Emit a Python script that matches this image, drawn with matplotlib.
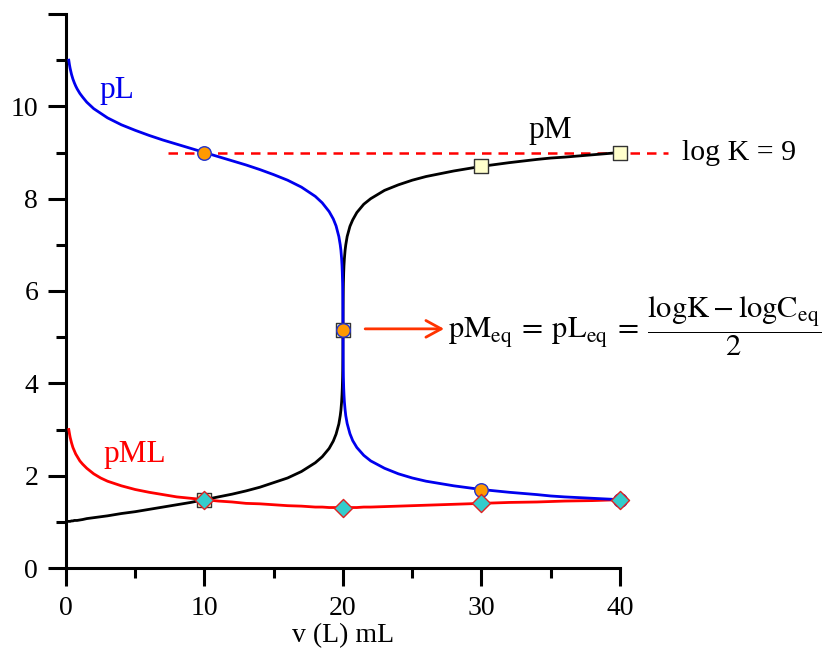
import matplotlib
matplotlib.use("Agg")
import matplotlib.pyplot as plt

plt.rcParams['font.family'] = ['Liberation Serif', 'DejaVu Serif']
plt.rcParams['mathtext.fontset'] = 'stix'

# titrant volume (mL) and p-values
v = [0.2, 0.25, 0.3, 0.4, 0.5, 0.6, 0.7, 0.8, 1, 1.2, 1.5, 2, 2.5, 3, 4, 5, 6, 7, 8, 9,
     10, 11, 12, 13, 14, 15, 16, 17, 18, 18.5, 19, 19.3, 19.5, 19.7, 19.8, 19.85, 19.9,
     19.93, 19.95, 19.97, 19.98, 19.99, 19.995, 20, 20.005, 20.01, 20.02, 20.03, 20.05,
     20.07, 20.1, 20.15, 20.2, 20.3, 20.5, 20.7, 21, 21.5, 22, 23, 24, 25, 26, 27, 28,
     29, 30, 32, 34, 35, 36, 38, 40]
pM = [1.01, 1.01, 1.01, 1.02, 1.02, 1.03, 1.03, 1.03, 1.04, 1.05, 1.07, 1.09, 1.11,
      1.13, 1.18, 1.22, 1.27, 1.32, 1.37, 1.42, 1.48, 1.54, 1.60, 1.67, 1.75, 1.85,
      1.95, 2.09, 2.28, 2.41, 2.59, 2.75, 2.90, 3.12, 3.30, 3.42, 3.60, 3.76, 3.90,
      4.12, 4.29, 4.57, 4.80, 5.15, 5.50, 5.73, 6.01, 6.18, 6.40, 6.55, 6.70, 6.88,
      7.00, 7.18, 7.40, 7.54, 7.70, 7.88, 8.00, 8.18, 8.30, 8.40, 8.48, 8.54, 8.60,
      8.65, 8.70, 8.78, 8.85, 8.88, 8.90, 8.95, 9.00]
pL = [11.00, 10.90, 10.82, 10.69, 10.59, 10.51, 10.44, 10.38, 10.28, 10.20, 10.09,
      9.95, 9.85, 9.75, 9.60, 9.48, 9.37, 9.27, 9.18, 9.09, 9.00, 8.91, 8.82, 8.73,
      8.63, 8.52, 8.40, 8.25, 8.05, 7.91, 7.72, 7.56, 7.41, 7.18, 7.00, 6.88, 6.70,
      6.55, 6.40, 6.18, 6.01, 5.73, 5.50, 5.15, 4.80, 4.57, 4.29, 4.12, 3.90, 3.76,
      3.60, 3.43, 3.30, 3.13, 2.91, 2.76, 2.61, 2.44, 2.32, 2.16, 2.04, 1.95, 1.88,
      1.83, 1.78, 1.74, 1.70, 1.64, 1.59, 1.56, 1.54, 1.51, 1.48]
pML = [3.00, 2.91, 2.83, 2.71, 2.61, 2.54, 2.47, 2.42, 2.32, 2.25, 2.16, 2.04, 1.95,
       1.88, 1.78, 1.70, 1.64, 1.59, 1.54, 1.51, 1.48, 1.45, 1.43, 1.40, 1.39, 1.37,
       1.35, 1.34, 1.32, 1.32, 1.31, 1.31, 1.31, 1.30, 1.30, 1.30, 1.30, 1.30, 1.30,
       1.30, 1.30, 1.30, 1.30, 1.30, 1.30, 1.30, 1.30, 1.30, 1.30, 1.30, 1.30, 1.30,
       1.30, 1.30, 1.31, 1.31, 1.31, 1.32, 1.32, 1.33, 1.34, 1.35, 1.36, 1.37, 1.38,
       1.39, 1.40, 1.42, 1.43, 1.44, 1.45, 1.46, 1.48]

# highlighted points
v_marks = [10, 20, 30, 40]
pM_marks = [1.48, 5.15, 8.70, 9.00]
pL_marks = [9.00, 5.15, 1.70, 1.48]
pML_marks = [1.48, 1.30, 1.40, 1.48]

logK = 9
x_ticks = [0, 10, 20, 30, 40]
y_ticks = [0, 2, 4, 6, 8, 10, 12]
y_tick_labels = ['0', '2', '4', '6', '8', '10', '']

fig = plt.figure(figsize=(8.29, 6.54), dpi=100)
ax = fig.add_axes([66/829, 86/654, 554/829, 554/654])

ax.plot(v, pM, color='black', lw=2.0, zorder=3)
ax.plot(v, pL, color='#0000ee', lw=2.0, zorder=4)
ax.plot(v, pML, color='#ff0000', lw=2.0, zorder=3)
ax.plot([7.4, 43.5], [logK, logK], color='#ff0000', lw=1.8, ls=(0, (3.8, 2.8)),
        zorder=2, clip_on=False)

ax.scatter(v_marks, pM_marks, marker='s', s=95, facecolor='#ffffcc',
           edgecolor='#333333', linewidth=1, zorder=5, clip_on=False)
ax.scatter(v_marks, pL_marks, marker='o', s=95, facecolor='#ff9900',
           edgecolor='#2233cc', linewidth=1, zorder=6, clip_on=False)
ax.scatter(v_marks, pML_marks, marker='D', s=85, facecolor='#33cccc',
           edgecolor='#dd2222', linewidth=1, zorder=7, clip_on=False)

ax.text(2.45, 10.17, 'pL', color='#0000ee', fontsize=22.5, ha='left', va='baseline')
ax.text(33.4, 9.31, 'pM', color='black', fontsize=22.5, ha='left', va='baseline')
ax.text(2.67, 2.30, 'pML', color='#ff0000', fontsize=22.5, ha='left', va='baseline')
ax.text(44.5, 8.84, 'log K = 9', color='black', fontsize=21.5, ha='left',
        va='baseline', clip_on=False)

ax.annotate('', xy=(27.5, 5.18), xytext=(21.4, 5.18),
            arrowprops=dict(arrowstyle='->,head_length=1.1,head_width=0.6',
                            color='#ff3300', lw=2.0))
ax.text(27.55, 5.24,
        r'$\mathrm{pM_{eq}}\:=\:\mathrm{pL_{eq}}\:=\:'
        r'\dfrac{\mathrm{logK}-\mathrm{logC_{eq}}}{2}$',
        fontsize=22, ha='left', va='center', clip_on=False)

ax.set_xlim(0, 40)
ax.set_ylim(0, 12)
ax.set_xticks(x_ticks)
ax.set_xticks([5, 15, 25, 35], minor=True)
ax.set_yticks(y_ticks)
ax.set_yticklabels(y_tick_labels)
ax.set_yticks([1, 3, 5, 7, 9, 11], minor=True)
ax.spines['top'].set_visible(False)
ax.spines['right'].set_visible(False)
for s in ['left', 'bottom']:
    ax.spines[s].set_linewidth(2.2)
ax.tick_params(which='major', direction='out', length=13, width=2.2,
               labelsize=20, pad=7)
ax.tick_params(which='minor', direction='out', length=7, width=2.2)
ax.set_xlabel('v (L) mL', fontsize=20, labelpad=2)

fig.savefig('out.png', dpi=100)
